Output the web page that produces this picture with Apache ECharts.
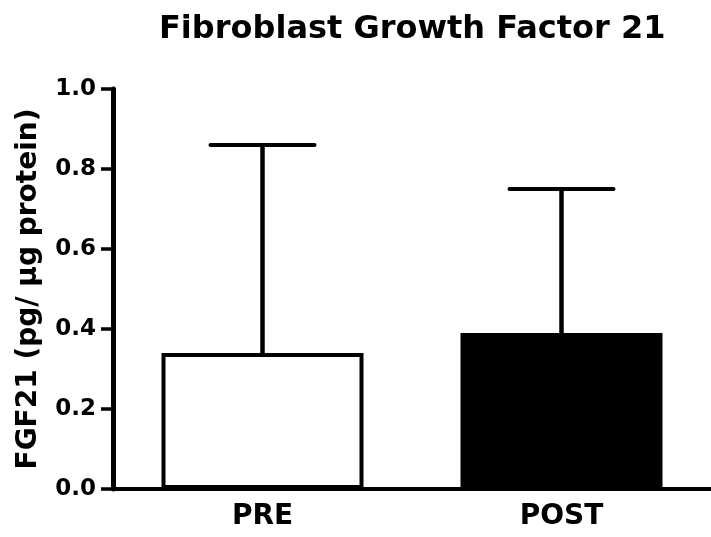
<!DOCTYPE html>
<html>
<head>
<meta charset="utf-8">
<script src="https://cdn.jsdelivr.net/npm/echarts@6/dist/echarts.min.js"></script>
<style>
	html, body { margin: 0; padding: 0; background: #fff; }
	#chart { width: 711px; height: 537px; }
</style>
</head>
<body>
<div id="chart"></div>
<script>
const categories = ['PRE', 'POST'];
const means = [0.34, 0.39];
const upperErr = [0.86, 0.75];
const barFills = ['#ffffff', '#000000'];
const yTicks = [0, 1, 0.2];

const font = '"DejaVu Sans", sans-serif';

const chart = echarts.init(document.getElementById('chart'), null, {renderer: 'canvas'});

const option = {
	animation: false,
	backgroundColor: '#fff',
	title: {
		text: 'Fibroblast Growth Factor 21',
		left: 154,
		top: 9,
		textStyle: {
			fontFamily: font,
			fontWeight: 'bold',
			fontSize: 32,
			color: '#000'
		}
	},
	grid: {
		left: 113,
		top: 89,
		right: 0,
		bottom: 48,
		containLabel: false
	},
	xAxis: {
		type: 'category',
		data: categories,
		axisLine: {lineStyle: {color: '#000', width: 4}},
		axisTick: {alignWithLabel: true, length: 12, lineStyle: {color: '#000', width: 4.5}},
		axisLabel: {
			color: '#000',
			fontFamily: font,
			fontWeight: 'bold',
			fontSize: 28,
			margin: 14
		},
		splitLine: {show: false}
	},
	yAxis: {
		type: 'value',
		min: yTicks[0],
		max: yTicks[1],
		interval: yTicks[2],
		name: 'FGF21 (pg/ µg protein)',
		nameLocation: 'middle',
		nameGap: 70,
		nameTextStyle: {
			color: '#000',
			fontFamily: font,
			fontWeight: 'bold',
			fontSize: 28
		},
		axisLine: {show: true, lineStyle: {color: '#000', width: 5}},
		axisTick: {show: true, length: 12, lineStyle: {color: '#000', width: 3.5}},
		axisLabel: {
			color: '#000',
			fontFamily: font,
			fontWeight: 'bold',
			fontSize: 23,
			margin: 17,
			formatter: v => v.toFixed(1)
		},
		splitLine: {show: false}
	},
	series: [
		{
			type: 'bar',
			barWidth: 202,
			data: means.map((v, i) => ({
				value: v,
				itemStyle: {color: barFills[i], borderColor: '#000', borderWidth: 4}
			})),
			z: 2
		},
		{
			type: 'custom',
			data: means.map((v, i) => [i, v, upperErr[i]]),
			renderItem: (params, api) => {
				const base = api.coord([api.value(0), api.value(1)]);
				const top = api.coord([api.value(0), api.value(2)]);
				const half = 52;
				return {
					type: 'group',
					children: [
						{type: 'line', shape: {x1: base[0], y1: base[1], x2: top[0], y2: top[1]},
							style: {stroke: '#000', lineWidth: 4.5}},
						{type: 'line', shape: {x1: top[0] - half, y1: top[1], x2: top[0] + half, y2: top[1]},
							style: {stroke: '#000', lineWidth: 4, lineCap: 'round'}}
					]
				};
			},
			z: 3
		}
	]
};

chart.setOption(option);
</script>
</body>
</html>
